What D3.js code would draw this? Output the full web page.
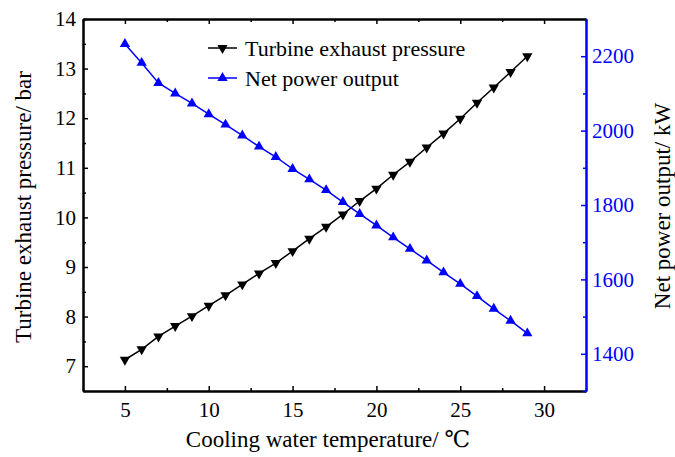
<!DOCTYPE html>
<html>
<head>
<meta charset="utf-8">
<script src="https://cdn.jsdelivr.net/npm/d3@7"></script>
<style>
  body { margin: 0; background: #fff; overflow: hidden; }
  svg text { font-family: "Times New Roman", Times, "Liberation Serif", "DejaVu Serif", serif; }
</style>
</head>
<body>
<div id="plot"></div>
<script>
// Data
const temperature = [5, 6, 7, 8, 9, 10, 11, 12, 13, 14, 15, 16, 17, 18, 19, 20, 21, 22, 23, 24, 25, 26, 27, 28, 29];
const exhaustPressure = [7.13, 7.34, 7.60, 7.81, 8.01, 8.22, 8.43, 8.65, 8.87, 9.08, 9.32, 9.57, 9.81, 10.06, 10.33,
  10.58, 10.86, 11.12, 11.41, 11.69, 11.99, 12.31, 12.62, 12.93, 13.25];
const netPower = [2233, 2182, 2128, 2100, 2073, 2044, 2016, 1987, 1957, 1929, 1897, 1869, 1840, 1808, 1776,
  1745, 1713, 1682, 1651, 1619, 1588, 1555, 1521, 1489, 1455];
const xTicks = [5, 10, 15, 20, 25, 30];
const leftTicks = [7, 8, 9, 10, 11, 12, 13, 14];
const rightTicks = [1400, 1600, 1800, 2000, 2200];
const seriesNames = ["Turbine exhaust pressure", "Net power output"];

// Parameters
const svg_w = 675;
const svg_h = 457;
const margin = {top: 19, right: 89, bottom: 66, left: 83};
const innerWidth = svg_w - margin.left - margin.right;
const innerHeight = svg_h - margin.top - margin.bottom;
const blue = "#0000ff";
const tickFont = 21;
const legendFont = 22;
const titleFont = 23;
const serif = "'Times New Roman', Times, 'Liberation Serif', 'DejaVu Serif', serif";

const svg = d3.select("div#plot")
  .append("svg")
    .attr("width", svg_w)
    .attr("height", svg_h)
    .style("display", "block")
    .style("font-family", serif);

svg.append("rect")
    .attr("width", svg_w)
    .attr("height", svg_h)
    .attr("fill", "white");

const xScale = d3.scaleLinear().domain([2.5, 32.5]).range([0, innerWidth]);
const yLeft = d3.scaleLinear().domain([6.5, 14]).range([innerHeight, 0]);
const yRight = d3.scaleLinear().domain([1300, 2300]).range([innerHeight, 0]);

const g = svg.append("g")
    .attr("transform", `translate(${margin.left}, ${margin.top})`);

function styleAxis(sel, color, labelled) {
  const anchor = sel.attr("text-anchor");
  sel.attr("font-family", null).attr("font-size", null);
  sel.selectAll("path").attr("stroke", color).attr("stroke-width", 2);
  sel.selectAll("line").attr("stroke", color).attr("stroke-width", 1.5);
  if (!labelled) {
    sel.selectAll("text").remove();
    return;
  }
  sel.selectAll("text")
    .attr("fill", color)
    .attr("text-anchor", anchor)
    .style("font-size", tickFont + "px")
    .style("font-family", serif);
}

// minor ticks
const xMinor = d3.range(2.5, 32.6, 2.5).filter(v => v % 5 !== 0);
const leftMinor = d3.range(6.5, 14, 1);
const rightMinor = d3.range(1300, 2300, 200);

// bottom axis
g.append("g")
    .attr("transform", `translate(0, ${innerHeight})`)
    .call(d3.axisBottom(xScale).tickValues(xMinor).tickSizeInner(-3).tickSizeOuter(0))
    .call(s => styleAxis(s, "black", false));
g.append("g")
    .attr("transform", `translate(0, ${innerHeight})`)
    .call(d3.axisBottom(xScale).tickValues(xTicks).tickFormat(d3.format("d")).tickSizeInner(-5).tickSizeOuter(0).tickPadding(11))
    .call(s => styleAxis(s, "black", true));

// top axis
g.append("g")
    .call(d3.axisTop(xScale).tickValues(xMinor).tickSizeInner(-3).tickSizeOuter(0))
    .call(s => styleAxis(s, "black", false));
g.append("g")
    .call(d3.axisTop(xScale).tickValues(xTicks).tickSizeInner(-5).tickSizeOuter(0))
    .call(s => styleAxis(s, "black", false));

// left axis
g.append("g")
    .call(d3.axisLeft(yLeft).tickValues(leftMinor).tickSizeInner(-3).tickSizeOuter(0))
    .call(s => styleAxis(s, "black", false));
g.append("g")
    .call(d3.axisLeft(yLeft).tickValues(leftTicks).tickFormat(d3.format("d")).tickSizeInner(-5).tickSizeOuter(0).tickPadding(7))
    .call(s => styleAxis(s, "black", true));

// right axis
g.append("g")
    .attr("transform", `translate(${innerWidth}, 0)`)
    .call(d3.axisRight(yRight).tickValues(rightMinor).tickSizeInner(-3).tickSizeOuter(0))
    .call(s => styleAxis(s, blue, false));
g.append("g")
    .attr("transform", `translate(${innerWidth}, 0)`)
    .call(d3.axisRight(yRight).tickValues(rightTicks).tickFormat(d3.format("d")).tickSizeInner(-5).tickSizeOuter(0).tickPadding(6))
    .call(s => styleAxis(s, blue, true));

// lines
const pressureLine = d3.line()
    .x((d, i) => xScale(temperature[i]))
    .y(d => yLeft(d));
const powerLine = d3.line()
    .x((d, i) => xScale(temperature[i]))
    .y(d => yRight(d));

g.append("path")
    .datum(exhaustPressure)
    .attr("d", pressureLine)
    .attr("fill", "none")
    .attr("stroke", "black")
    .attr("stroke-width", 1.5);

g.append("path")
    .datum(netPower)
    .attr("d", powerLine)
    .attr("fill", "none")
    .attr("stroke", blue)
    .attr("stroke-width", 1.5);

const tri = d3.symbol().type(d3.symbolTriangle).size(46);

g.append("g").selectAll("path")
  .data(exhaustPressure)
  .join("path")
    .attr("d", tri)
    .attr("transform", (d, i) => `translate(${xScale(temperature[i])}, ${yLeft(d)}) rotate(180)`)
    .attr("fill", "black");

g.append("g").selectAll("path")
  .data(netPower)
  .join("path")
    .attr("d", tri)
    .attr("transform", (d, i) => `translate(${xScale(temperature[i])}, ${yRight(d)})`)
    .attr("fill", blue);

// legend
const legend = svg.append("g");
const legendColors = ["black", blue];
seriesNames.forEach(function(name, i) {
  const y = 48 + i * 30;
  legend.append("line")
      .attr("x1", 208).attr("x2", 237)
      .attr("y1", y).attr("y2", y)
      .attr("stroke", legendColors[i])
      .attr("stroke-width", 1.5);
  legend.append("path")
      .attr("d", tri)
      .attr("transform", `translate(222.5, ${y}) rotate(${i === 0 ? 180 : 0})`)
      .attr("fill", legendColors[i]);
  legend.append("text")
      .attr("x", 245)
      .attr("y", y)
      .attr("dy", "0.35em")
      .style("font-size", legendFont + "px")
      .text(name);
});

// axis titles
svg.append("text")
    .attr("x", 328)
    .attr("y", 447)
    .attr("text-anchor", "middle")
    .style("font-size", titleFont + "px")
    .text("Cooling water temperature/ ℃");

svg.append("text")
    .attr("transform", `translate(31, 207) rotate(-90)`)
    .attr("text-anchor", "middle")
    .style("font-size", titleFont + "px")
    .text("Turbine exhaust pressure/ bar");

svg.append("text")
    .attr("transform", `translate(670, 206) rotate(-90)`)
    .attr("text-anchor", "middle")
    .style("font-size", titleFont + "px")
    .text("Net power output/ kW");
</script>
</body>
</html>
